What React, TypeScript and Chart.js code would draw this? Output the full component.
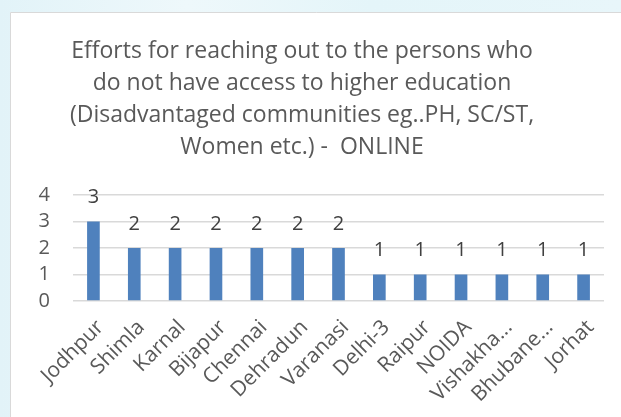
import React, { useEffect, useRef } from "react";
import { Chart, registerables } from "chart.js";

Chart.register(...registerables);

const titleLines = [
  "Efforts for reaching out to the persons who",
  "do not have access to higher education",
  "(Disadvantaged communities eg..PH, SC/ST,",
  "Women etc.) -  ONLINE",
];
const categories = [
  "Jodhpur", "Shimla", "Karnal", "Bijapur", "Chennai", "Dehradun", "Varanasi",
  "Delhi-3", "Raipur", "NOIDA", "Vishakha...", "Bhubane...", "Jorhat",
];
const values = [3, 2, 2, 2, 2, 2, 2, 1, 1, 1, 1, 1, 1];
const yTicks = [0, 1, 2, 3, 4];

const FONT = "'Open Sans', 'DejaVu Sans', sans-serif";

const bgPlugin = {
  id: "bgBox",
  beforeDraw(chart: any) {
    const { ctx, width, height } = chart;
    ctx.save();
    const g = ctx.createLinearGradient(0, 0, width, 0);
    g.addColorStop(0, "#e2f3f8");
    g.addColorStop(0.3, "#eef8fb");
    g.addColorStop(0.6, "#e4f5f9");
    g.addColorStop(1, "#e8f6fa");
    ctx.fillStyle = g;
    ctx.fillRect(0, 0, width, height);
    ctx.fillStyle = "#ffffff";
    ctx.fillRect(10, 12, width, height);
    ctx.strokeStyle = "#d9d9d9";
    ctx.lineWidth = 1;
    ctx.beginPath();
    ctx.moveTo(10.5, height + 2);
    ctx.lineTo(10.5, 12.5);
    ctx.lineTo(width + 2, 12.5);
    ctx.stroke();
    ctx.restore();
  },
};

const labelPlugin = {
  id: "barLabels",
  afterDatasetsDraw(chart: any) {
    const { ctx } = chart;
    const meta = chart.getDatasetMeta(0);
    const data = chart.data.datasets[0].data;
    ctx.save();
    ctx.font = `20px ${FONT}`;
    ctx.fillStyle = "#404040";
    ctx.textAlign = "center";
    ctx.textBaseline = "middle";
    meta.data.forEach((el: any, i: number) => {
      ctx.fillText(String(data[i]), el.x, el.y - 24);
    });
    ctx.restore();
  },
};

export default function App() {
  const ref = useRef<HTMLCanvasElement>(null);
  useEffect(() => {
    document.body.style.margin = "0";
    const chart = new Chart(ref.current!, {
      type: "bar",
      data: {
        labels: categories,
        datasets: [
          {
            data: values,
            backgroundColor: "#4f81bd",
            barPercentage: 0.31,
            categoryPercentage: 1,
          },
        ],
      },
      options: {
        animation: false,
        responsive: false,
        layout: { padding: { top: 0, left: 0, right: 17, bottom: 0 } },
        plugins: {
          legend: { display: false },
          tooltip: { enabled: false },
          title: {
            display: true,
            text: titleLines,
            color: "#595959",
            font: { family: FONT, size: 23, weight: "normal", lineHeight: "32px" },
            padding: { top: 35, bottom: 32 },
          },
        },
        scales: {
          x: {
            grid: { display: false },
            border: { display: false },
            ticks: {
              color: "#595959",
              font: { family: FONT, size: 21 },
              minRotation: 45,
              maxRotation: 45,
              autoSkip: false,
              labelOffset: 7,
              padding: 6,
            },
            afterFit(scale: any) {
              scale.height = 116;
            },
          },
          y: {
            min: 0,
            max: 4,
            afterBuildTicks(scale: any) {
              scale.ticks = yTicks.map((v) => ({ value: v }));
            },
            grid: { color: "#d9d9d9", lineWidth: 1.5, drawTicks: false },
            border: { display: false },
            ticks: {
              color: "#595959",
              font: { family: FONT, size: 20 },
              padding: 23,
              autoSkip: false,
            },
            afterFit(scale: any) {
              scale.width = 73;
            },
          },
        },
      },
      plugins: [bgPlugin, labelPlugin],
    });
    return () => chart.destroy();
  }, []);
  return <canvas ref={ref} width={621} height={417} style={{ display: "block" }} />;
}
